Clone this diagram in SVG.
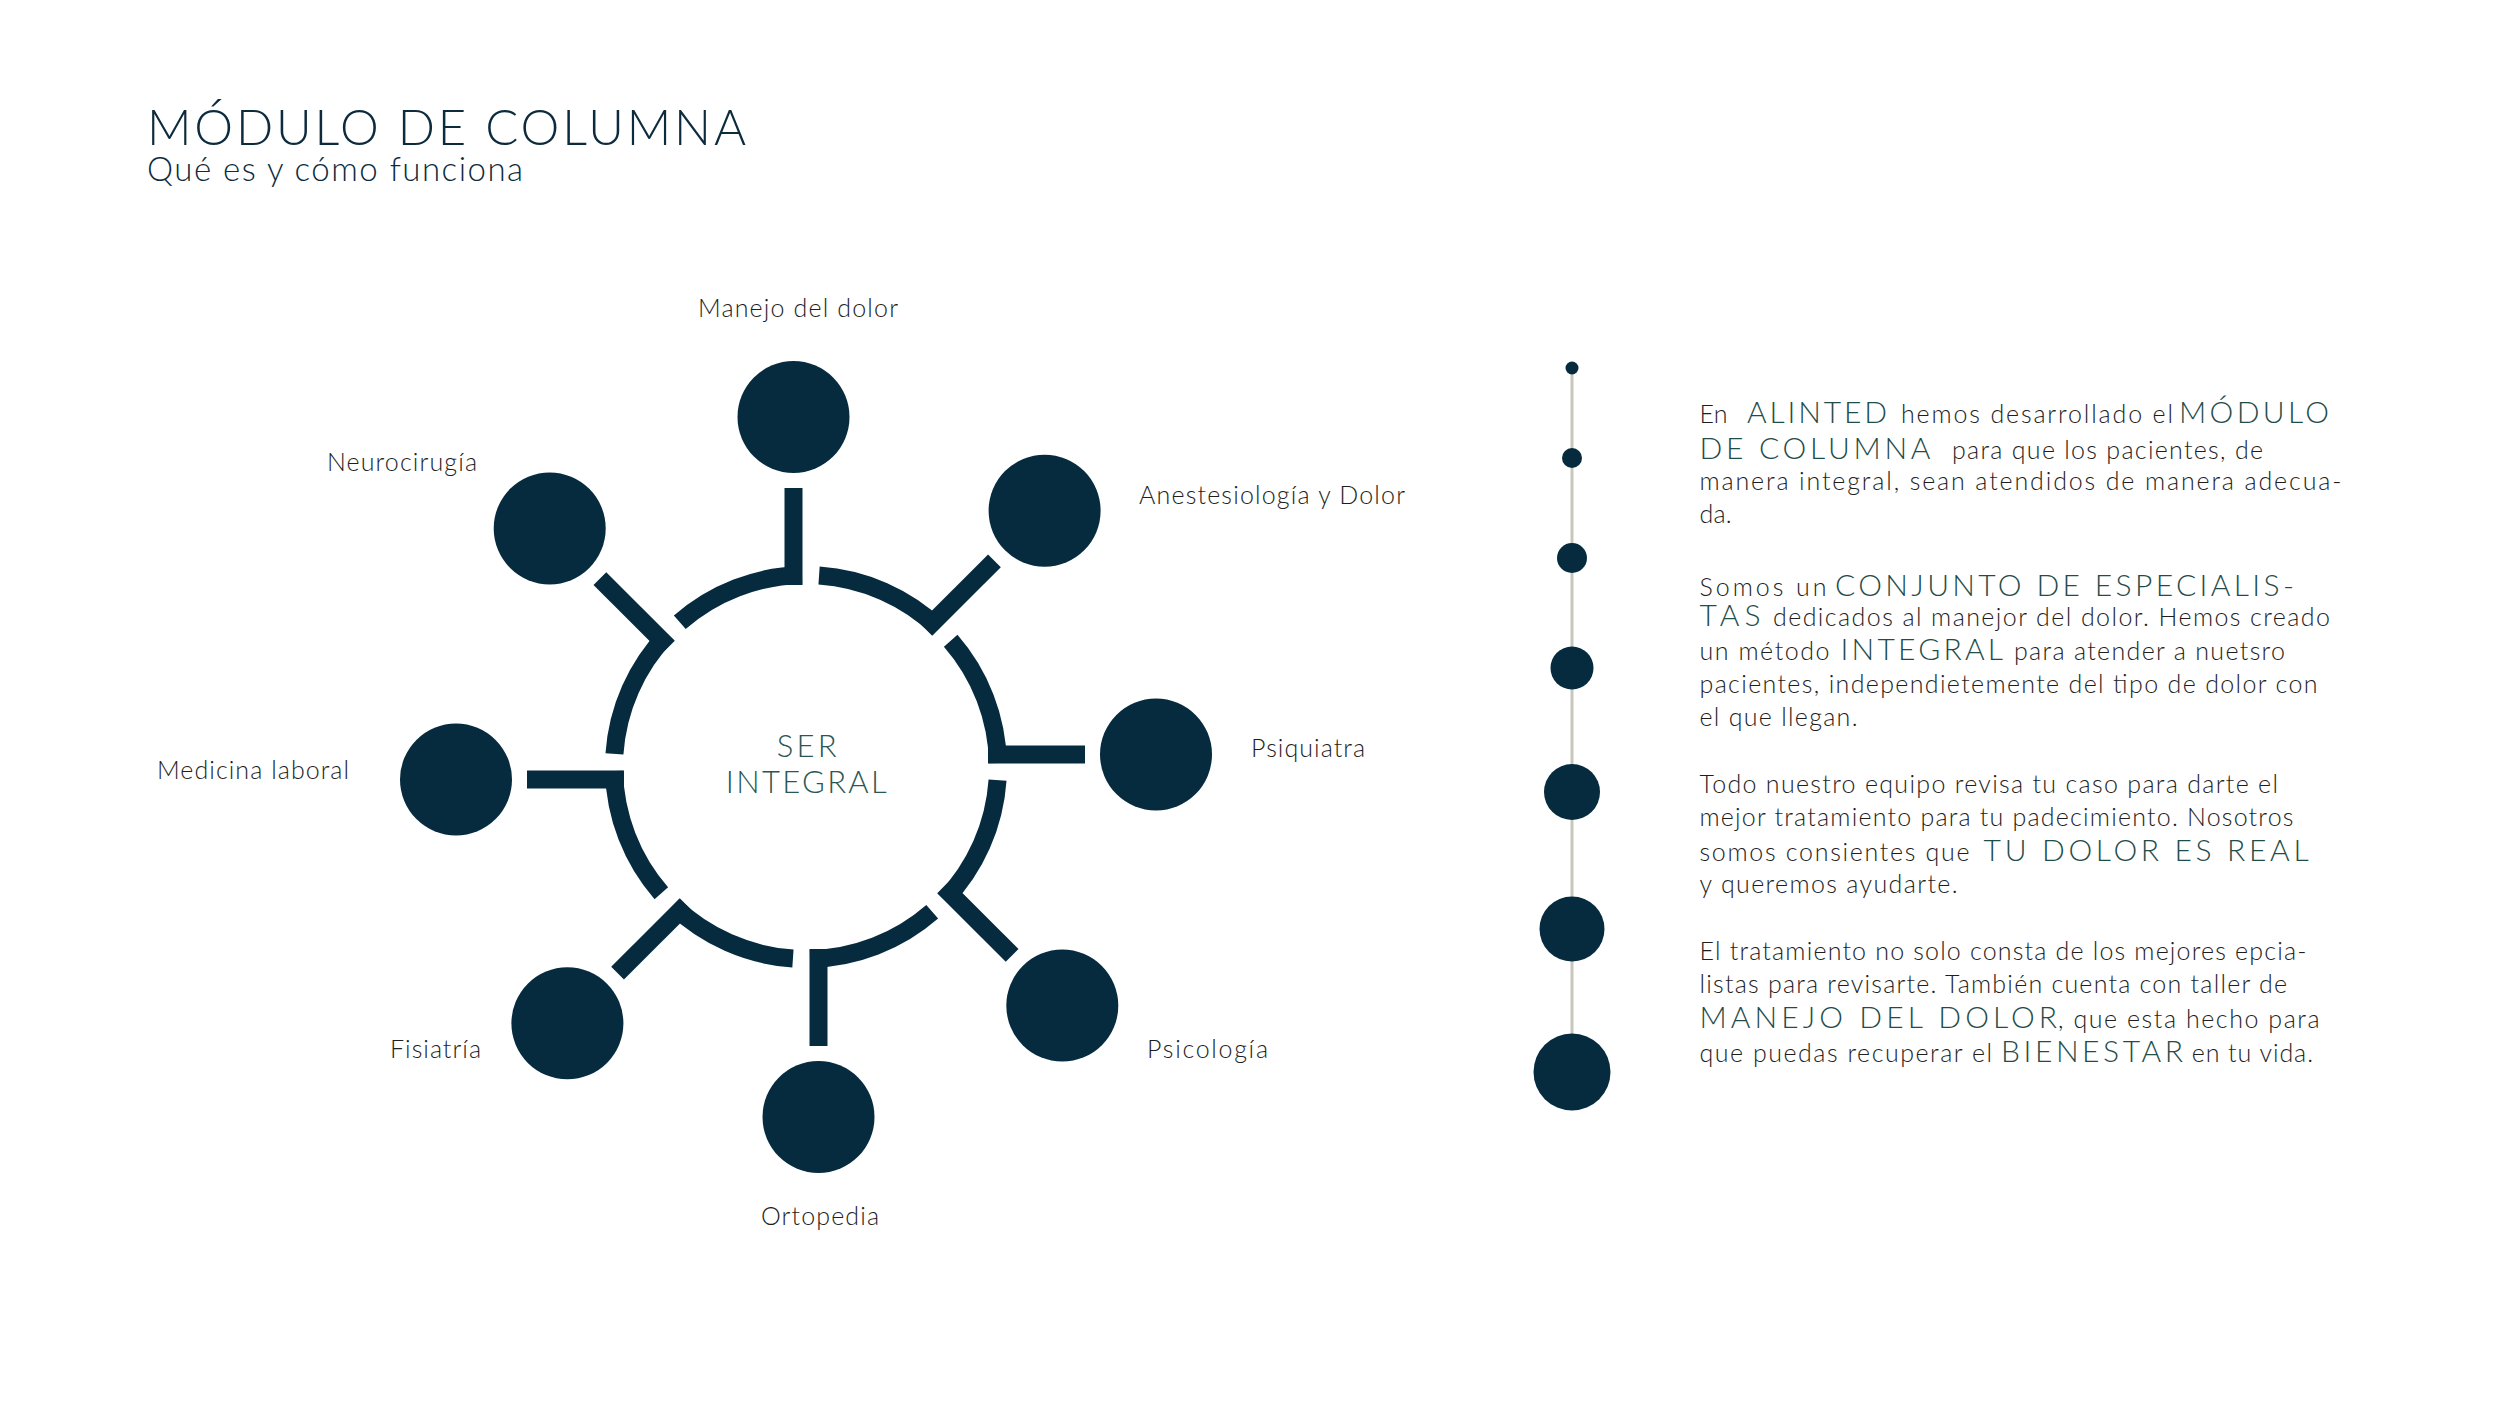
<svg xmlns="http://www.w3.org/2000/svg" xmlns:xlink="http://www.w3.org/1999/xlink" width="2500" height="1405" viewBox="0 0 2500 1405">
<style>
  .bg{fill:#ffffff}
  .node{fill:#062b3f}
  .stem{fill:#062b3f}
  .ring{fill:none;stroke:#062b3f;stroke-width:18;stroke-linecap:butt}
  .lbl{font-family:Lato,"Liberation Sans",sans-serif;font-size:25px;fill:#1e1e1e;font-weight:300}
  .title{font-family:Lato,"Liberation Sans",sans-serif;font-size:49px;fill:#0c2b3c;font-weight:300}
  .sub{font-family:Lato,"Liberation Sans",sans-serif;font-size:33px;fill:#0c2b3c;font-weight:300}
  .core{font-family:Lato,"Liberation Sans",sans-serif;font-size:31px;fill:#2a5753;font-weight:300}
  .body{font-family:Lato,"Liberation Sans",sans-serif;font-size:25px;fill:#1e1e1e;font-weight:300}
  .hl{font-size:30px;fill:#1f4d49;font-weight:300}
  .tl-line{stroke:#c9c7bb;stroke-width:3}
  .dot{fill:#062b3f}
</style>
<defs>
  <g id="spokeUnit">
    <rect class="stem" x="784.5" y="488" width="18" height="97"/>
    <path class="ring" d="M 819.06 575.45 A 192 192 0 0 1 938.89 628.42"/>
  </g>
</defs>
<rect class="bg" x="0" y="0" width="2500" height="1405"/>

<g id="header">
  <text class="title" x="147" y="145" textLength="599" lengthAdjust="spacing">MÓDULO DE COLUMNA</text>
  <text class="sub" x="147" y="181" textLength="376" lengthAdjust="spacing">Qué es y cómo funciona</text>
</g>

<g id="connectors">
  <use xlink:href="#spokeUnit" href="#spokeUnit"/>
  <use xlink:href="#spokeUnit" href="#spokeUnit" transform="rotate(45 806 767)"/>
  <use xlink:href="#spokeUnit" href="#spokeUnit" transform="rotate(90 806 767)"/>
  <use xlink:href="#spokeUnit" href="#spokeUnit" transform="rotate(135 806 767)"/>
  <use xlink:href="#spokeUnit" href="#spokeUnit" transform="rotate(180 806 767)"/>
  <use xlink:href="#spokeUnit" href="#spokeUnit" transform="rotate(225 806 767)"/>
  <use xlink:href="#spokeUnit" href="#spokeUnit" transform="rotate(270 806 767)"/>
  <use xlink:href="#spokeUnit" href="#spokeUnit" transform="rotate(315 806 767)"/>
</g>

<g id="node-ser-integral">
  <text class="core" x="776.7" y="757" textLength="60" lengthAdjust="spacing">SER</text>
  <text class="core" x="725.7" y="793" textLength="161" lengthAdjust="spacing">INTEGRAL</text>
</g>

<g id="node-manejo-del-dolor">
  <circle class="node" cx="793.5" cy="417" r="56"/>
  <text class="lbl" x="698" y="317" textLength="200" lengthAdjust="spacing">Manejo del dolor</text>
</g>
<g id="node-anestesiologia">
  <circle class="node" cx="1044.6" cy="510.7" r="56"/>
  <text class="lbl" x="1139" y="503.5" textLength="266" lengthAdjust="spacing">Anestesiología y Dolor</text>
</g>
<g id="node-psiquiatra">
  <circle class="node" cx="1156" cy="754.5" r="56"/>
  <text class="lbl" x="1251" y="757" textLength="114" lengthAdjust="spacing">Psiquiatra</text>
</g>
<g id="node-psicologia">
  <circle class="node" cx="1062.3" cy="1005.6" r="56"/>
  <text class="lbl" x="1147" y="1058" textLength="121" lengthAdjust="spacing">Psicología</text>
</g>
<g id="node-ortopedia">
  <circle class="node" cx="818.5" cy="1117" r="56"/>
  <text class="lbl" x="761" y="1225" textLength="118" lengthAdjust="spacing">Ortopedia</text>
</g>
<g id="node-fisiatria">
  <circle class="node" cx="567.4" cy="1023.3" r="56"/>
  <text class="lbl" x="390" y="1058" textLength="91" lengthAdjust="spacing">Fisiatría</text>
</g>
<g id="node-medicina-laboral">
  <circle class="node" cx="456" cy="779.5" r="56"/>
  <text class="lbl" x="157" y="779" textLength="192" lengthAdjust="spacing">Medicina laboral</text>
</g>
<g id="node-neurocirugia">
  <circle class="node" cx="549.7" cy="528.4" r="56"/>
  <text class="lbl" x="327" y="471" textLength="150" lengthAdjust="spacing">Neurocirugía</text>
</g>

<g id="timeline">
  <line class="tl-line" x1="1572" y1="368" x2="1572" y2="1072"/>
  <circle class="dot" cx="1572" cy="368" r="6.5"/>
  <circle class="dot" cx="1572" cy="458" r="10"/>
  <circle class="dot" cx="1572" cy="558" r="15"/>
  <circle class="dot" cx="1572" cy="668" r="21.5"/>
  <circle class="dot" cx="1572" cy="792" r="28"/>
  <circle class="dot" cx="1572" cy="929" r="32.5"/>
  <circle class="dot" cx="1572" cy="1072" r="38.5"/>
</g>

<g id="description" class="body">
  <text y="423"><tspan x="1699.5" textLength="28" lengthAdjust="spacing">En</tspan><tspan class="hl" x="1747" textLength="140" lengthAdjust="spacing">ALINTED</tspan><tspan x="1901" textLength="272" lengthAdjust="spacing">hemos desarrollado el</tspan><tspan class="hl" x="2179" textLength="150" lengthAdjust="spacing">MÓDULO</tspan></text>
  <text y="459"><tspan class="hl" x="1699.5" textLength="231" lengthAdjust="spacing">DE COLUMNA</tspan><tspan x="1952" textLength="311" lengthAdjust="spacing">para que los pacientes, de</tspan></text>
  <text y="490"><tspan x="1699.5" textLength="642" lengthAdjust="spacing">manera integral, sean atendidos de manera adecua-</tspan></text>
  <text y="523"><tspan x="1699.5" textLength="32" lengthAdjust="spacing">da.</tspan></text>

  <text y="596"><tspan x="1699.5" textLength="127" lengthAdjust="spacing">Somos un</tspan><tspan class="hl" x="1835" textLength="459" lengthAdjust="spacing">CONJUNTO DE ESPECIALIS-</tspan></text>
  <text y="626"><tspan class="hl" x="1699.5" textLength="61" lengthAdjust="spacing">TAS</tspan><tspan x="1773" textLength="557" lengthAdjust="spacing">dedicados al manejor del dolor. Hemos creado</tspan></text>
  <text y="660"><tspan x="1699.5" textLength="130" lengthAdjust="spacing">un método</tspan><tspan class="hl" x="1840.5" textLength="162.5" lengthAdjust="spacing">INTEGRAL</tspan><tspan x="2014" textLength="271" lengthAdjust="spacing">para atender a nuetsro</tspan></text>
  <text y="693"><tspan x="1699.5" textLength="618" lengthAdjust="spacing">pacientes, independietemente del tipo de dolor con</tspan></text>
  <text y="726"><tspan x="1699.5" textLength="158" lengthAdjust="spacing">el que llegan.</tspan></text>

  <text y="793"><tspan x="1699.5" textLength="578.5" lengthAdjust="spacing">Todo nuestro equipo revisa tu caso para darte el</tspan></text>
  <text y="826"><tspan x="1699.5" textLength="594" lengthAdjust="spacing">mejor tratamiento para tu padecimiento. Nosotros</tspan></text>
  <text y="861"><tspan x="1699.5" textLength="270" lengthAdjust="spacing">somos consientes que</tspan><tspan class="hl" x="1983.6" textLength="325" lengthAdjust="spacing">TU DOLOR ES REAL</tspan></text>
  <text y="893"><tspan x="1699.5" textLength="258" lengthAdjust="spacing">y queremos ayudarte.</tspan></text>

  <text y="960"><tspan x="1699.5" textLength="607" lengthAdjust="spacing">El tratamiento no solo consta de los mejores epcia-</tspan></text>
  <text y="993"><tspan x="1699.5" textLength="587.5" lengthAdjust="spacing">listas para revisarte. También cuenta con taller de</tspan></text>
  <text y="1028"><tspan class="hl" x="1699.5" textLength="357.5" lengthAdjust="spacing">MANEJO DEL DOLOR</tspan><tspan x="2058" textLength="261.6" lengthAdjust="spacing">, que esta hecho para</tspan></text>
  <text y="1062"><tspan x="1699.5" textLength="292.5" lengthAdjust="spacing">que puedas recuperar el</tspan><tspan class="hl" x="2001" textLength="182" lengthAdjust="spacing">BIENESTAR</tspan><tspan x="2191.7" textLength="121.3" lengthAdjust="spacing">en tu vida.</tspan></text>
</g>
</svg>
